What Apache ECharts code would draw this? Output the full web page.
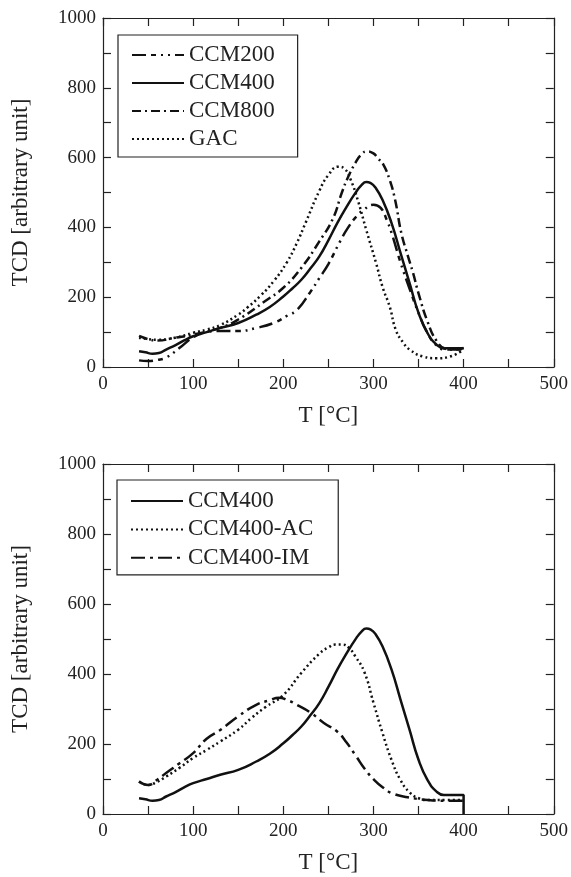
<!DOCTYPE html>
<html>
<head>
<meta charset="utf-8">
<title>TCD</title>
<style>
  html, body { margin: 0; padding: 0; background: #fff; }
  #chart { width: 571px; height: 877px; }
</style>
</head>
<body>
<div id="chart"></div>
<script src="https://cdn.jsdelivr.net/npm/echarts@6/dist/echarts.min.js"></script>
<script>
// --- data (T in °C, TCD in arbitrary unit) ---
var ccm200T = [40, 50, 60, 70, 85, 100, 115, 130, 150, 170, 190, 205, 215, 230, 240, 250, 263, 272, 281, 290, 300, 308, 315, 320, 330, 340, 350, 360, 370, 380, 400];
var ccm200V = [19, 17, 20, 27, 55, 85, 100, 103, 103, 112, 127, 148, 163, 215, 255, 295, 360, 400, 431, 452, 465, 456, 420, 385, 300, 225, 155, 97, 62, 50, 50];

var ccm400T = [40, 47, 55, 62, 70, 80, 90, 100, 115, 130, 150, 170, 185, 200, 210, 220, 230, 240, 250, 260, 270, 280, 287, 292, 297, 302, 310, 320, 330, 340, 350, 360, 370, 378, 390, 400];
var ccm400V = [45, 42, 38, 40, 50, 62, 76, 88, 100, 112, 126, 150, 172, 202, 225, 250, 282, 317, 363, 413, 458, 499, 522, 530, 527, 515, 479, 413, 327, 241, 155, 97, 64, 54, 54, 54];

var ccm800T = [40, 50, 60, 80, 100, 130, 150, 180, 200, 220, 240, 255, 265, 272, 280, 287, 293, 300, 305, 311, 318, 324, 331, 338, 344, 350, 360, 370, 380, 390, 400];
var ccm800V = [89, 80, 76, 84, 93, 112, 136, 189, 227, 284, 360, 425, 500, 545, 585, 610, 618, 612, 598, 580, 536, 479, 383, 320, 269, 211, 130, 75, 52, 50, 55];

var gacT = [40, 50, 60, 80, 100, 115, 130, 150, 160, 175, 190, 204, 215, 225, 240, 250, 261, 268, 275, 283, 292, 303, 310, 318, 325, 333, 340, 355, 370, 385, 400];
var gacV = [84, 80, 78, 84, 98, 107, 120, 150, 170, 205, 248, 300, 355, 415, 505, 550, 574, 568, 535, 475, 393, 297, 230, 173, 105, 70, 50, 30, 25, 30, 50];

var acT = [40, 50, 60, 70, 85, 100, 115, 130, 150, 165, 180, 200, 220, 240, 250, 258, 266, 273, 280, 290, 300, 310, 320, 330, 340, 350, 360, 380, 400];
var acV = [93, 83, 92, 107, 132, 160, 183, 207, 241, 275, 305, 340, 403, 458, 476, 484, 484, 474, 450, 405, 318, 232, 155, 97, 62, 45, 40, 40, 40];

var imT = [40, 50, 60, 70, 85, 100, 115, 130, 150, 170, 185, 195, 205, 215, 230, 245, 260, 270, 281, 290, 301, 311, 321, 338, 360, 380, 400];
var imV = [93, 83, 98, 117, 145, 174, 215, 240, 279, 312, 325, 332, 325, 312, 290, 260, 235, 205, 164, 130, 97, 75, 59, 48, 40, 38, 38];

var xTicks = [0, 100, 200, 300, 400, 500];
var yTicks = [0, 200, 400, 600, 800, 1000];

function pairs(t, v) {
  return t.map(function (x, i) { return [x, v[i]]; });
}

var FONT = '"Liberation Serif", "Times New Roman", serif';
var INK = '#222';

function xAx(grid, mirror) {
  return {
    type: 'value', gridIndex: grid, min: 0, max: 500, interval: 50,
    position: mirror ? 'top' : 'bottom',
    name: mirror ? '' : 'T [°C]', nameLocation: 'middle', nameGap: 37,
    nameTextStyle: { fontFamily: FONT, fontSize: 23, color: INK },
    axisLine: { show: true, onZero: false, lineStyle: { color: INK, width: 1.2 } },
    axisTick: { show: true, inside: true, length: 8, lineStyle: { color: INK, width: 1.2 } },
    splitLine: { show: false },
    axisLabel: {
      show: !mirror, fontFamily: FONT, fontSize: 19, color: INK, margin: 8,
      formatter: function (v) { return xTicks.indexOf(v) >= 0 ? String(v) : ''; }
    }
  };
}

function yAx(grid, mirror) {
  return {
    type: 'value', gridIndex: grid, min: 0, max: 1000, interval: 100,
    position: mirror ? 'right' : 'left',
    name: mirror ? '' : 'TCD [arbitrary unit]', nameLocation: 'middle', nameGap: 71,
    nameTextStyle: { fontFamily: FONT, fontSize: 23, color: INK },
    axisLine: { show: true, onZero: false, lineStyle: { color: INK, width: 1.2 } },
    axisTick: { show: true, inside: true, length: 8, lineStyle: { color: INK, width: 1.2 } },
    splitLine: { show: false },
    axisLabel: {
      show: !mirror, fontFamily: FONT, fontSize: 19, color: INK, margin: 7,
      formatter: function (v) { return yTicks.indexOf(v) >= 0 ? String(v) : ''; }
    }
  };
}

function line(name, data, xi, yi, dash) {
  return {
    name: name, type: 'line', data: data, xAxisIndex: xi, yAxisIndex: yi,
    showSymbol: false, symbol: 'none', smooth: 0.5,
    itemStyle: { color: '#111' },
    lineStyle: { color: '#111', width: 2.5, type: dash },
    silent: true, animation: false
  };
}

var DASH_200 = [14, 5, 5, 5, 2, 5, 2, 5];
var DASH_800 = [9, 4, 2, 4];
var DASH_IM = [14, 5, 3, 5];
var DOT = [2, 3];

var legendText = { fontFamily: FONT, fontSize: 23, color: INK, lineHeight: 24 };

var ccm400Bottom = pairs(ccm400T, ccm400V).concat([[400, 0]]);

var option = {
  backgroundColor: '#fff',
  animation: false,
  grid: [
    { left: 103, right: 17, top: 18, height: 349 },
    { left: 103, right: 17, top: 464, height: 350 }
  ],
  xAxis: [xAx(0, false), xAx(0, true), xAx(1, false), xAx(1, true)],
  yAxis: [yAx(0, false), yAx(0, true), yAx(1, false), yAx(1, true)],
  legend: [
    {
      orient: 'vertical', left: 118, top: 35, padding: [8, 23, 6, 13],
      itemWidth: 52, itemHeight: 24, itemGap: 4,
      borderColor: INK, borderWidth: 1.2, selectedMode: false,
      itemStyle: { opacity: 0 },
      textStyle: legendText,
      data: ['CCM200', 'CCM400', 'CCM800', 'GAC']
    },
    {
      orient: 'vertical', left: 117, top: 480, padding: [9, 25, 5, 13],
      itemWidth: 52, itemHeight: 24, itemGap: 4.4,
      borderColor: INK, borderWidth: 1.2, selectedMode: false,
      itemStyle: { opacity: 0 },
      textStyle: legendText,
      data: ['CCM400 ', 'CCM400-AC', 'CCM400-IM']
    }
  ],
  series: [
    line('CCM200', pairs(ccm200T, ccm200V), 0, 0, DASH_200),
    line('CCM400', pairs(ccm400T, ccm400V), 0, 0, 'solid'),
    line('CCM800', pairs(ccm800T, ccm800V), 0, 0, DASH_800),
    line('GAC', pairs(gacT, gacV), 0, 0, DOT),
    line('CCM400 ', ccm400Bottom, 2, 2, 'solid'),
    line('CCM400-AC', pairs(acT, acV), 2, 2, DOT),
    line('CCM400-IM', pairs(imT, imV), 2, 2, DASH_IM)
  ]
};

var chart = echarts.init(document.getElementById('chart'));
chart.setOption(option);
</script>
</body>
</html>
